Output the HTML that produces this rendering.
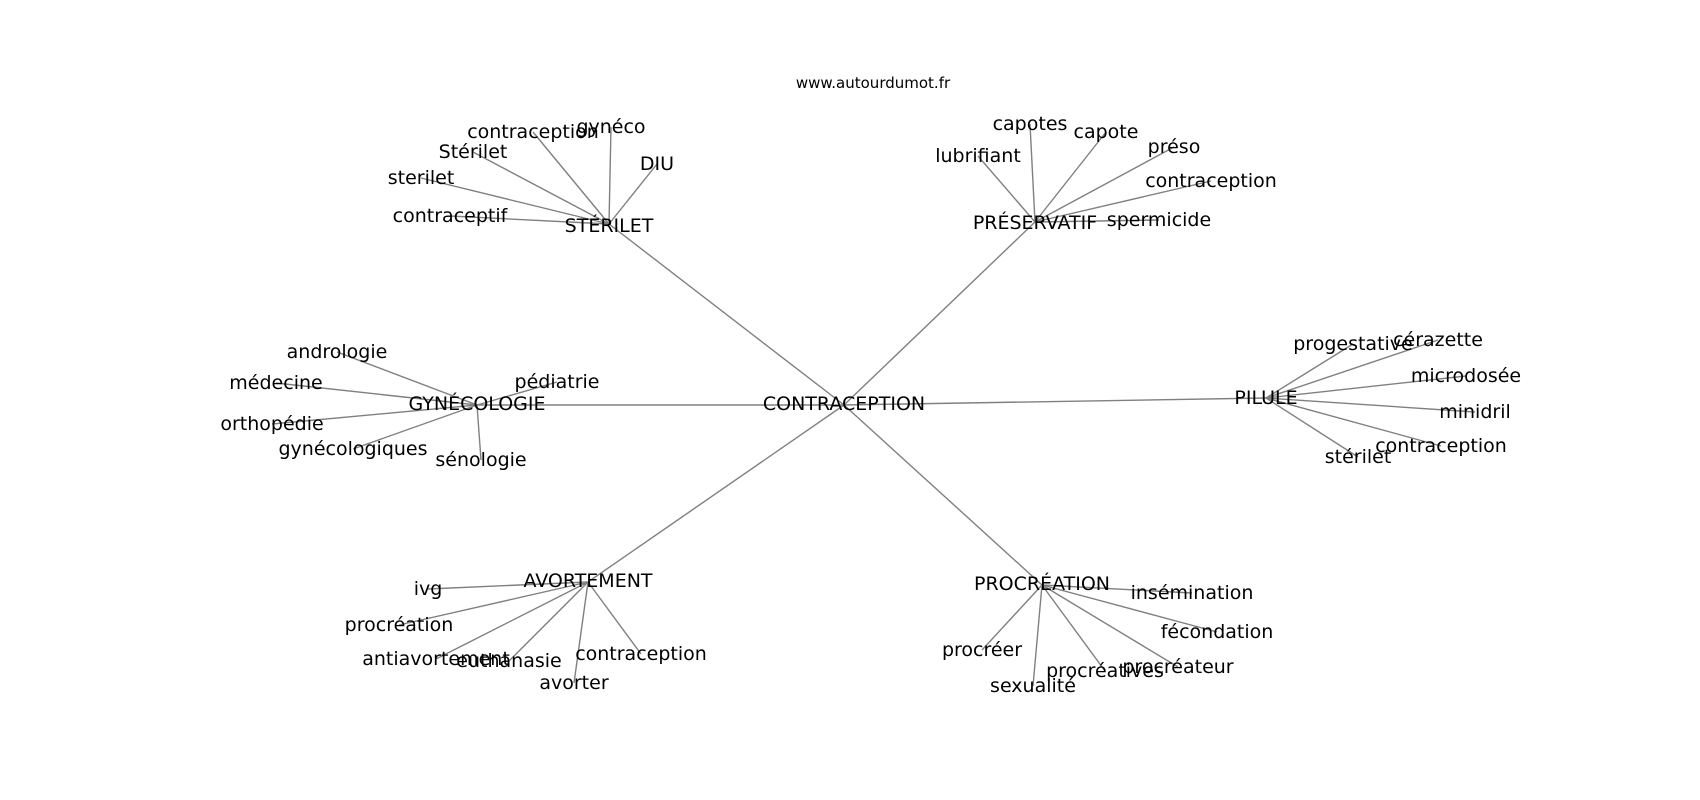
<!DOCTYPE html>
<html><head><meta charset="utf-8"><style>html,body{margin:0;padding:0;background:#fff}svg{display:block}text{font-family:"DejaVu Sans","Liberation Sans",sans-serif;fill:#000}</style></head><body>
<svg width="1700" height="800" viewBox="0 0 1700 800" xmlns="http://www.w3.org/2000/svg">
<g stroke="#808080" stroke-width="1.4" fill="none">
<line x1="844" y1="405" x2="609" y2="224"/>
<line x1="844" y1="405" x2="1035" y2="222"/>
<line x1="844" y1="405" x2="1266" y2="398"/>
<line x1="844" y1="405" x2="477" y2="405"/>
<line x1="844" y1="405" x2="588" y2="582"/>
<line x1="844" y1="405" x2="1042" y2="585"/>
<g>
<line x1="609" y1="224" x2="533" y2="132"/><line x1="609" y1="224" x2="611" y2="127"/><line x1="609" y1="224" x2="473" y2="152"/><line x1="609" y1="224" x2="657" y2="164"/><line x1="609" y1="224" x2="421" y2="178"/><line x1="609" y1="224" x2="450" y2="216"/>
</g>
<g>
<line x1="1035" y1="222" x2="1030" y2="124"/><line x1="1035" y1="222" x2="1106" y2="132"/><line x1="1035" y1="222" x2="978" y2="156"/><line x1="1035" y1="222" x2="1174" y2="147"/><line x1="1035" y1="222" x2="1211" y2="181"/><line x1="1035" y1="222" x2="1159" y2="220"/>
</g>
<g>
<line x1="1266" y1="398" x2="1353" y2="344"/><line x1="1266" y1="398" x2="1438" y2="340"/><line x1="1266" y1="398" x2="1466" y2="376"/><line x1="1266" y1="398" x2="1475" y2="412"/><line x1="1266" y1="398" x2="1441" y2="446"/><line x1="1266" y1="398" x2="1358" y2="457"/>
</g>
<g>
<line x1="477" y1="405" x2="337" y2="352"/><line x1="477" y1="405" x2="276" y2="383"/><line x1="477" y1="405" x2="557" y2="382"/><line x1="477" y1="405" x2="272" y2="424"/><line x1="477" y1="405" x2="353" y2="449"/><line x1="477" y1="405" x2="481" y2="460"/>
</g>
<g>
<line x1="588" y1="582" x2="428" y2="589"/><line x1="588" y1="582" x2="399" y2="625"/><line x1="588" y1="582" x2="436" y2="659"/><line x1="588" y1="582" x2="509" y2="661"/><line x1="588" y1="582" x2="641" y2="654"/><line x1="588" y1="582" x2="574" y2="683"/>
</g>
<g>
<line x1="1042" y1="585" x2="1192" y2="593"/><line x1="1042" y1="585" x2="1217" y2="632"/><line x1="1042" y1="585" x2="982" y2="650"/><line x1="1042" y1="585" x2="1178" y2="667"/><line x1="1042" y1="585" x2="1105" y2="671"/><line x1="1042" y1="585" x2="1033" y2="686"/>
</g>
</g>
<g font-size="19" text-anchor="middle" dominant-baseline="central">
<text x="873" y="83" font-size="15">www.autourdumot.fr</text>
<text x="844" y="404">CONTRACEPTION</text>
<text x="609" y="226">STÉRILET</text>
<text x="1035" y="223">PRÉSERVATIF</text>
<text x="1266" y="398">PILULE</text>
<text x="477" y="404">GYNÉCOLOGIE</text>
<text x="588" y="581">AVORTEMENT</text>
<text x="1042" y="584">PROCRÉATION</text>
<text x="533" y="132">contraception</text><text x="611" y="127">gynéco</text><text x="473" y="152">Stérilet</text><text x="657" y="164">DIU</text><text x="421" y="178">sterilet</text><text x="450" y="216">contraceptif</text>
<text x="1030" y="124">capotes</text><text x="1106" y="132">capote</text><text x="978" y="156">lubrifiant</text><text x="1174" y="147">préso</text><text x="1211" y="181">contraception</text><text x="1159" y="220">spermicide</text>
<text x="1353" y="344">progestative</text><text x="1438" y="340">cérazette</text><text x="1466" y="376">microdosée</text><text x="1475" y="412">minidril</text><text x="1441" y="446">contraception</text><text x="1358" y="457">stérilet</text>
<text x="337" y="352">andrologie</text><text x="276" y="383">médecine</text><text x="557" y="382">pédiatrie</text><text x="272" y="424">orthopédie</text><text x="353" y="449">gynécologiques</text><text x="481" y="460">sénologie</text>
<text x="428" y="589">ivg</text><text x="399" y="625">procréation</text><text x="436" y="659">antiavortement</text><text x="509" y="661">euthanasie</text><text x="641" y="654">contraception</text><text x="574" y="683">avorter</text>
<text x="1192" y="593">insémination</text><text x="1217" y="632">fécondation</text><text x="982" y="650">procréer</text><text x="1178" y="667">procréateur</text><text x="1105" y="671">procréatives</text><text x="1033" y="686">sexualité</text>
</g>
</svg>
</body></html>
